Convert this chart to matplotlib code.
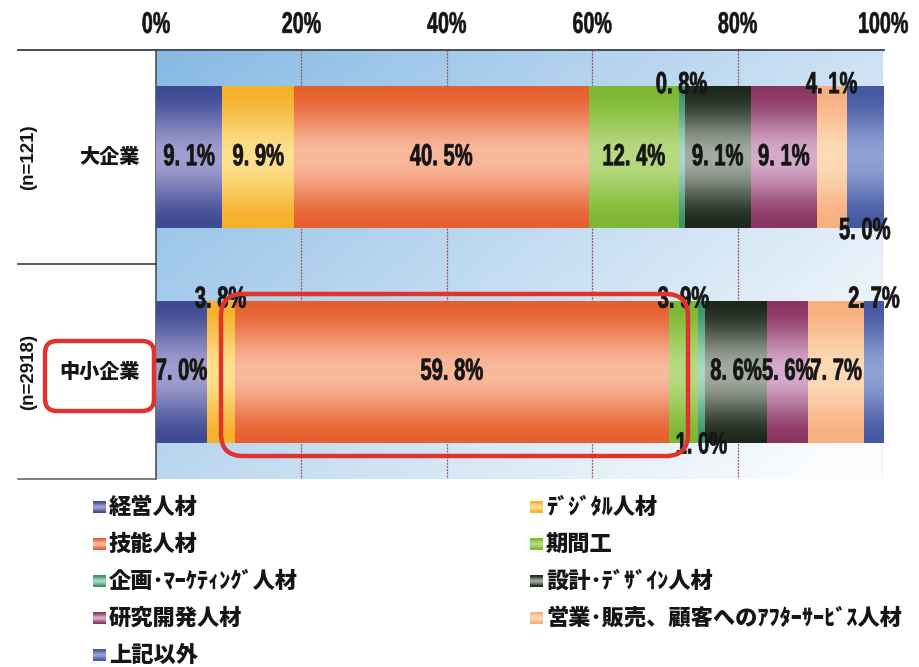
import numpy as np
import matplotlib
matplotlib.use("Agg")
import matplotlib.pyplot as plt
from matplotlib.patches import FancyBboxPatch
from matplotlib.colors import to_rgb
from matplotlib.patheffects import AbstractPathEffect
from matplotlib.transforms import Affine2D

# ---- data -------------------------------------------------------------
groups = ["大企業", "中小企業"]
sample_sizes = ["(n=121)", "(n=2918)"]
categories = [
    "経営人材", "ﾃﾞｼﾞﾀﾙ人材", "技能人材", "期間工", "企画･ﾏｰｹﾃｨﾝｸﾞ人材",
    "設計･ﾃﾞｻﾞｲﾝ人材", "研究開発人材", "営業･販売、顧客へのｱﾌﾀｰｻｰﾋﾞｽ人材", "上記以外",
]
large_firms = [9.1, 9.9, 40.5, 12.4, 0.8, 9.1, 9.1, 4.1, 5.0]
small_firms = [7.0, 3.8, 59.8, 3.9, 1.0, 8.6, 5.6, 7.7, 2.7]
tick_values = [0, 20, 40, 60, 80, 100]

# label placement per segment: inside the bar, above it, or below it
label_place = [
    ["in", "in", "in", "in", "above", "in", "in", "above", "below"],
    ["in", "above", "in", "above", "below", "in", "in", "in", "above"],
]

edge_colors = ["#3E4B93", "#F6B02A", "#E6602F", "#7DB832", "#3B9467",
               "#1D271B", "#8A3560", "#F7B07F", "#4558A2"]
mid_colors = ["#A19ECF", "#FEE08E", "#F9BA9C", "#B7D97F", "#A9D8C5",
              "#A1AB9F", "#D7ABCB", "#FEDAB8", "#90A1D3"]

NUM_FONT = ["Liberation Sans", "DejaVu Sans"]
JP_FONT = ["Noto Sans CJK JP", "DejaVu Sans"]
RED = "#E0332D"
INK = "#151515"


class Condense(AbstractPathEffect):
    """Draw text glyphs squeezed horizontally about the text centre,
    optionally with a thin outline to make the strokes heavier."""

    def __init__(self, sx=0.7, lw=0.0):
        super().__init__()
        self.sx = sx
        self.lw = lw

    def draw_path(self, renderer, gc, tpath, affine, rgbFace=None):
        ext = tpath.get_extents(affine)
        cx = 0.5 * (ext.x0 + ext.x1)
        squeeze = Affine2D().translate(-cx, 0).scale(self.sx, 1).translate(cx, 0)
        gc0 = renderer.new_gc()
        gc0.copy_properties(gc)
        if self.lw > 0 and rgbFace is not None:
            gc0.set_linewidth(self.lw)
            gc0.set_foreground(rgbFace)
            gc0.set_joinstyle("round")
        renderer.draw_path(gc0, tpath, affine + squeeze, rgbFace)
        gc0.restore()


W, H = 920, 667
fig = plt.figure(figsize=(W / 100, H / 100), dpi=100)
fig.patch.set_facecolor("white")

# plot area in pixels: x 156..883, y 50..479
ax = fig.add_axes([156 / W, 1 - 479 / H, 727 / W, 429 / H])


def vgradient(edge, mid, n=96):
    t = np.linspace(0, 1, n)
    w = np.sin(np.pi * t) ** 2
    e, m = np.array(to_rgb(edge)), np.array(to_rgb(mid))
    col = e[None, :] * (1 - w[:, None]) + m[None, :] * w[:, None]
    return col[:, None, :]


# background: diagonal blue-to-white wash
nx, ny = 300, 200
gx, gy = np.meshgrid(np.linspace(0, 1, nx), np.linspace(0, 1, ny))
tt = np.clip(0.62 * gx + 0.45 * gy, 0, 1)
c0 = np.array(to_rgb("#86B9E4"))
c1 = np.array(to_rgb("#FAFCFE"))
bg = c0[None, None, :] * (1 - tt[..., None]) + c1[None, None, :] * tt[..., None]
ax.imshow(bg, extent=(0, 100, 2, 0), aspect="auto", zorder=0, interpolation="bilinear")

# vertical grid lines
for v in tick_values[1:]:
    ax.plot([v, v], [0, 2], color="#94545A", lw=0.9, ls=(0, (1.5, 1)), zorder=1)

bar_h = 0.66
series = [large_firms, small_firms]
for gi, values in enumerate(series):
    yc = gi + 0.5
    cum = np.concatenate([[0], np.cumsum(values)])
    for si, v in enumerate(values):
        left = cum[si]
        bars = ax.barh(yc, v, left=left, height=bar_h, color=edge_colors[si], lw=0, zorder=2)
        im = ax.imshow(vgradient(edge_colors[si], mid_colors[si]),
                       extent=(left, left + v, yc + bar_h / 2, yc - bar_h / 2),
                       aspect="auto", zorder=3, interpolation="bilinear")
        im.set_clip_path(bars.patches[0])
        txt = f"{v:.1f}".replace(".", ". ") + "%"
        place = label_place[gi][si]
        xc = left + v / 2
        if place == "in":
            ty = yc
        elif place == "above":
            ty = yc - bar_h / 2 - 0.006
        else:
            ty = yc + bar_h / 2 + 0.014
        ax.text(xc, ty, txt, ha="center", va="center", fontsize=22,
                fontweight="bold", family=NUM_FONT, color=INK, zorder=5,
                path_effects=[Condense(0.66, 0.5)])

ax.set_xlim(0, 100)
ax.set_ylim(2, 0)
ax.xaxis.tick_top()
ax.set_xticks(tick_values)
ax.set_xticklabels([f"{v}%" for v in tick_values], fontsize=21.5,
                   fontweight="bold", family=NUM_FONT, color=INK)
for lbl in ax.get_xticklabels():
    lbl.set_path_effects([Condense(0.66, 0.4)])
ax.tick_params(axis="x", length=0, pad=8)
ax.set_yticks([])
for s in ["top", "right", "bottom"]:
    ax.spines[s].set_visible(False)
ax.spines["left"].set_color("#505050")
ax.spines["left"].set_linewidth(1.2)

# ---- overlay in pixel coordinates: table lines, labels, legend, highlights
ov = fig.add_axes([0, 0, 1, 1], zorder=10)
ov.set_xlim(0, W)
ov.set_ylim(H, 0)
ov.axis("off")
ov.patch.set_alpha(0)

ov.plot([18, 884], [50, 50], color="#3C4048", lw=1.3)
ov.plot([18, 156], [264, 264], color="#3C3C3C", lw=1.2)
ov.plot([18, 156], [479, 479], color="#6A6A6A", lw=1.2)

group_centers = [157, 372]
for g, n, yc in zip(groups, sample_sizes, group_centers):
    ov.text(140, yc, g, ha="right", va="center", fontsize=14.5, fontweight="black",
            family=JP_FONT, color=INK)
    ov.text(29, yc, n, ha="center", va="center", rotation=90, fontsize=13.5,
            fontweight="bold", family=NUM_FONT, color=INK)

# highlight boxes
ov.add_patch(FancyBboxPatch((45, 341), 109, 70, boxstyle="round,pad=0,rounding_size=12",
                            fc="none", ec=RED, lw=3.2, zorder=6))
ov.add_patch(FancyBboxPatch((221, 294), 467, 162, boxstyle="round,pad=0,rounding_size=22",
                            fc="none", ec=RED, lw=3.2, zorder=6))

# legend
col_x = [93, 530]
for i, name in enumerate(categories):
    col, row = i % 2, i // 2
    x0 = col_x[col]
    yc = 507 + row * 37
    ov.imshow(vgradient(edge_colors[i], mid_colors[i], 24),
              extent=(x0, x0 + 13, yc + 6, yc - 6), aspect="auto",
              interpolation="bilinear", zorder=5)
    ov.text(x0 + 16, yc, name, ha="left", va="center", fontsize=16,
            fontweight="black", family=JP_FONT, color=INK)
ov.set_xlim(0, W)
ov.set_ylim(H, 0)

fig.savefig("out.png", dpi=100)
